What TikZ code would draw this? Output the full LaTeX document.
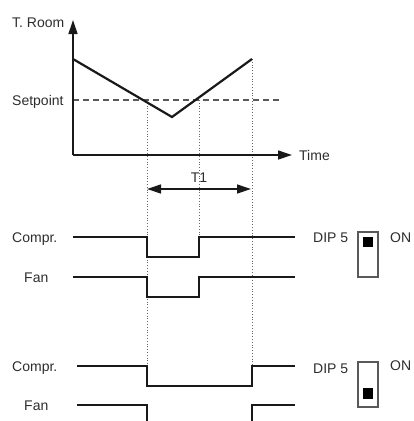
\documentclass[tikz,border=0pt]{standalone}
\usepackage{fontspec}
\setmainfont{Liberation Sans}
\usetikzlibrary{arrows.meta}
\definecolor{ink}{RGB}{25,25,25}
\definecolor{txt}{RGB}{45,45,45}
\tikzset{
  lbl/.style={inner sep=0pt, anchor=west, text height=10pt, text depth=0pt, text=txt, font=\fontsize{14pt}{15pt}\selectfont},
  axis/.style={draw=ink, line width=1.3pt, -{Triangle[length=14pt,width=9pt]}},
  curve/.style={draw=ink, line width=2.2pt, line join=miter},
  signal/.style={draw=ink, line width=2.4pt, line join=miter},
  guide/.style={draw=black!60, line width=0.8pt, dotted},
  setp/.style={draw=black!65, line width=1.1pt, dash pattern=on 6pt off 4pt},
  tarrow/.style={draw=ink, line width=1.3pt, {Triangle[length=14pt,width=9pt]}-{Triangle[length=14pt,width=9pt]}},
  dipbox/.style={draw=black!65, line width=1.1pt, fill=white},
  dipknob/.style={fill=black, draw=none}
}
\begin{document}
\begin{tikzpicture}[x=1pt,y=-1pt]
\useasboundingbox (0,0) rectangle (413,421);
% axes
\coordinate (O) at (73,155);
\coordinate (Ytop) at (73,20);
\coordinate (Xend) at (292,155);
% temperature
\coordinate (T0) at (73,59);
\coordinate (Tmin) at (172,117);
\coordinate (T1e) at (252,59);
\coordinate (S0) at (73,100);
\coordinate (S1) at (282,100);
% guides
\coordinate (Ga) at (147,100);
\coordinate (Gb) at (199,100);
\coordinate (Gc) at (252,59);
\coordinate (GaEnd) at (147,366);
\coordinate (GbEnd) at (199,237);
\coordinate (GcEnd) at (252,366);
\draw[guide] (Ga) -- (GaEnd);
\draw[guide] (Gb) -- (GbEnd);
\draw[guide] (Gc) -- (GcEnd);
\draw[setp] (S0) -- (S1);
\draw[axis] (O) -- (Ytop);
\draw[axis] (O) -- (Xend);
\draw[curve] (T0) -- (Tmin) -- (T1e);
% T1 arrow
\coordinate (Aa) at (147,189);
\coordinate (Ab) at (251,189);
\draw[tarrow] (Aa) -- (Ab);
\node[lbl, anchor=center] (t1) at (199,177) {T1};
% labels
\node[lbl] (troom) at (12,22) {T. Room};
\node[lbl] (setpt) at (12,100) {Setpoint};
\node[lbl] (time) at (299,155) {Time};
% upper signals
\node[lbl] (c1) at (12,237) {Compr.};
\node[lbl] (f1) at (24,277) {Fan};
\draw[signal] (73,237) coordinate (c1a) -- (147,237) -- (147,257) -- (199,257) -- (199,237) -- (295,237) coordinate (c1b);
\draw[signal] (73,277) coordinate (f1a) -- (147,277) -- (147,297) -- (199,297) -- (199,277) -- (295,277) coordinate (f1b);
\node[lbl] (dip1) at (313,237) {DIP 5};
\node[lbl] (on1) at (390,237) {ON};
\draw[dipbox] (358,232) rectangle (378,277);
\fill[dipknob] (363,237) rectangle (373,247);
% lower signals
\node[lbl] (c2) at (12,366) {Compr.};
\node[lbl] (f2) at (24,405) {Fan};
\draw[signal] (77,366) coordinate (c2a) -- (147,366) -- (147,386) -- (252,386) -- (252,366) -- (295,366) coordinate (c2b);
\draw[signal] (77,405) coordinate (f2a) -- (147,405) -- (147,425);
\draw[signal] (252,425) -- (252,405) -- (295,405) coordinate (f2b);
\node[lbl] (dip2) at (313,368) {DIP 5};
\node[lbl] (on2) at (390,365) {ON};
\draw[dipbox] (358,362) rectangle (378,407);
\fill[dipknob] (363,388) rectangle (373,399);
\end{tikzpicture}
\end{document}
